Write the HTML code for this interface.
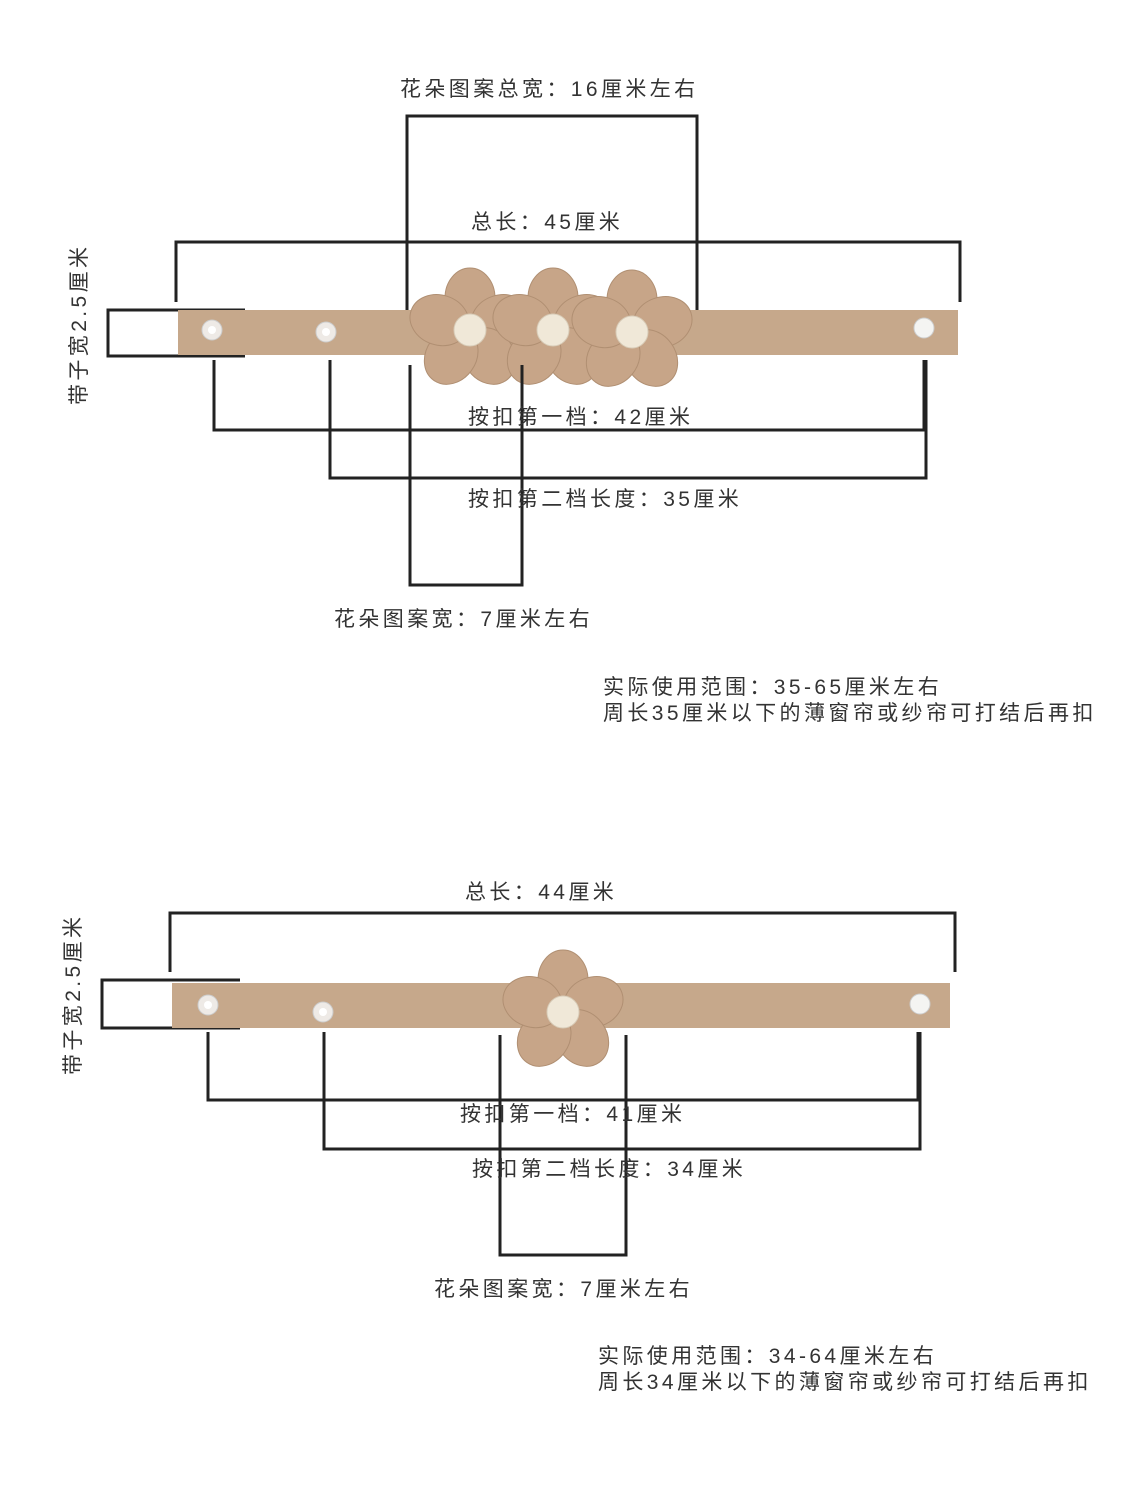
<!DOCTYPE html>
<html><head><meta charset="utf-8"><style>
body{margin:0;background:#fff}
svg{display:block}
text{font-family:"Liberation Sans","Noto Sans CJK SC",sans-serif;font-size:21px;fill:#333;letter-spacing:3.4px}
</style></head><body>
<svg width="1125" height="1500" viewBox="0 0 1125 1500">
<defs>
<g id="fl">
<g fill="#c7a588" stroke="#b08f72" stroke-width="1">
<ellipse cx="0" cy="-32" rx="25" ry="30"/>
<ellipse cx="0" cy="-32" rx="25" ry="30" transform="rotate(72)"/>
<ellipse cx="0" cy="-32" rx="25" ry="30" transform="rotate(144)"/>
<ellipse cx="0" cy="-32" rx="25" ry="30" transform="rotate(216)"/>
<ellipse cx="0" cy="-32" rx="25" ry="30" transform="rotate(288)"/>
</g>
<circle r="16" fill="#f0e8d8" stroke="#d8ccb8"/>
</g>
<g id="snap"><circle r="10" fill="#eeeae6" stroke="#ccc"/><circle r="4" fill="#fff"/></g>
</defs>
<g fill="none" stroke="#222" stroke-width="3">
<polyline points="407,342 407,116 697,116 697,335"/>
<polyline points="176,302 176,242 960,242 960,302"/>
<polyline points="245,310 108,310 108,356 245,356"/>
</g>
<rect x="178" y="310" width="780" height="45" fill="#c6a88b"/>
<use href="#snap" x="212" y="330"/><use href="#snap" x="326" y="332"/>
<circle cx="924" cy="328" r="10" fill="#f4f4f2" stroke="#ccc"/>
<use href="#fl" x="470" y="330"/><use href="#fl" x="553" y="330"/><use href="#fl" x="632" y="332"/>
<g fill="none" stroke="#222" stroke-width="3">
<polyline points="214,360 214,430 924,430 924,360"/>
<polyline points="330,360 330,478 926,478 926,360"/>
<polyline points="410,365 410,585 522,585 522,365"/>
</g>
<text x="400" y="96">花朵图案总宽：16厘米左右</text>
<text x="471" y="229">总长：45厘米</text>
<text x="468" y="424">按扣第一档：42厘米</text>
<text x="468" y="506">按扣第二档长度：35厘米</text>
<text x="334" y="626">花朵图案宽：7厘米左右</text>
<text x="603" y="694">实际使用范围：35-65厘米左右</text>
<text x="603" y="720">周长35厘米以下的薄窗帘或纱帘可打结后再扣</text>
<text transform="translate(86,405) rotate(-90)">带子宽2.5厘米</text>
<g fill="none" stroke="#222" stroke-width="3">
<polyline points="170,972 170,913 955,913 955,972"/>
<polyline points="240,980 102,980 102,1028 240,1028"/>
</g>
<rect x="172" y="983" width="778" height="45" fill="#c6a88b"/>
<use href="#snap" x="208" y="1005"/><use href="#snap" x="323" y="1012"/>
<circle cx="920" cy="1004" r="10" fill="#f4f4f2" stroke="#ccc"/>
<g fill="none" stroke="#222" stroke-width="3">
<polyline points="208,1032 208,1100 918,1100 918,1032"/>
<polyline points="324,1032 324,1149 920,1149 920,1032"/>
<polyline points="500,1035 500,1255 626,1255 626,1035"/>
</g>
<use href="#fl" x="563" y="1012"/>
<text x="465" y="899">总长：44厘米</text>
<text x="460" y="1121">按扣第一档：41厘米</text>
<text x="472" y="1176">按扣第二档长度：34厘米</text>
<text x="434" y="1296">花朵图案宽：7厘米左右</text>
<text x="598" y="1363">实际使用范围：34-64厘米左右</text>
<text x="598" y="1389">周长34厘米以下的薄窗帘或纱帘可打结后再扣</text>
<text transform="translate(80,1075) rotate(-90)">带子宽2.5厘米</text>
</svg>
</body></html>
